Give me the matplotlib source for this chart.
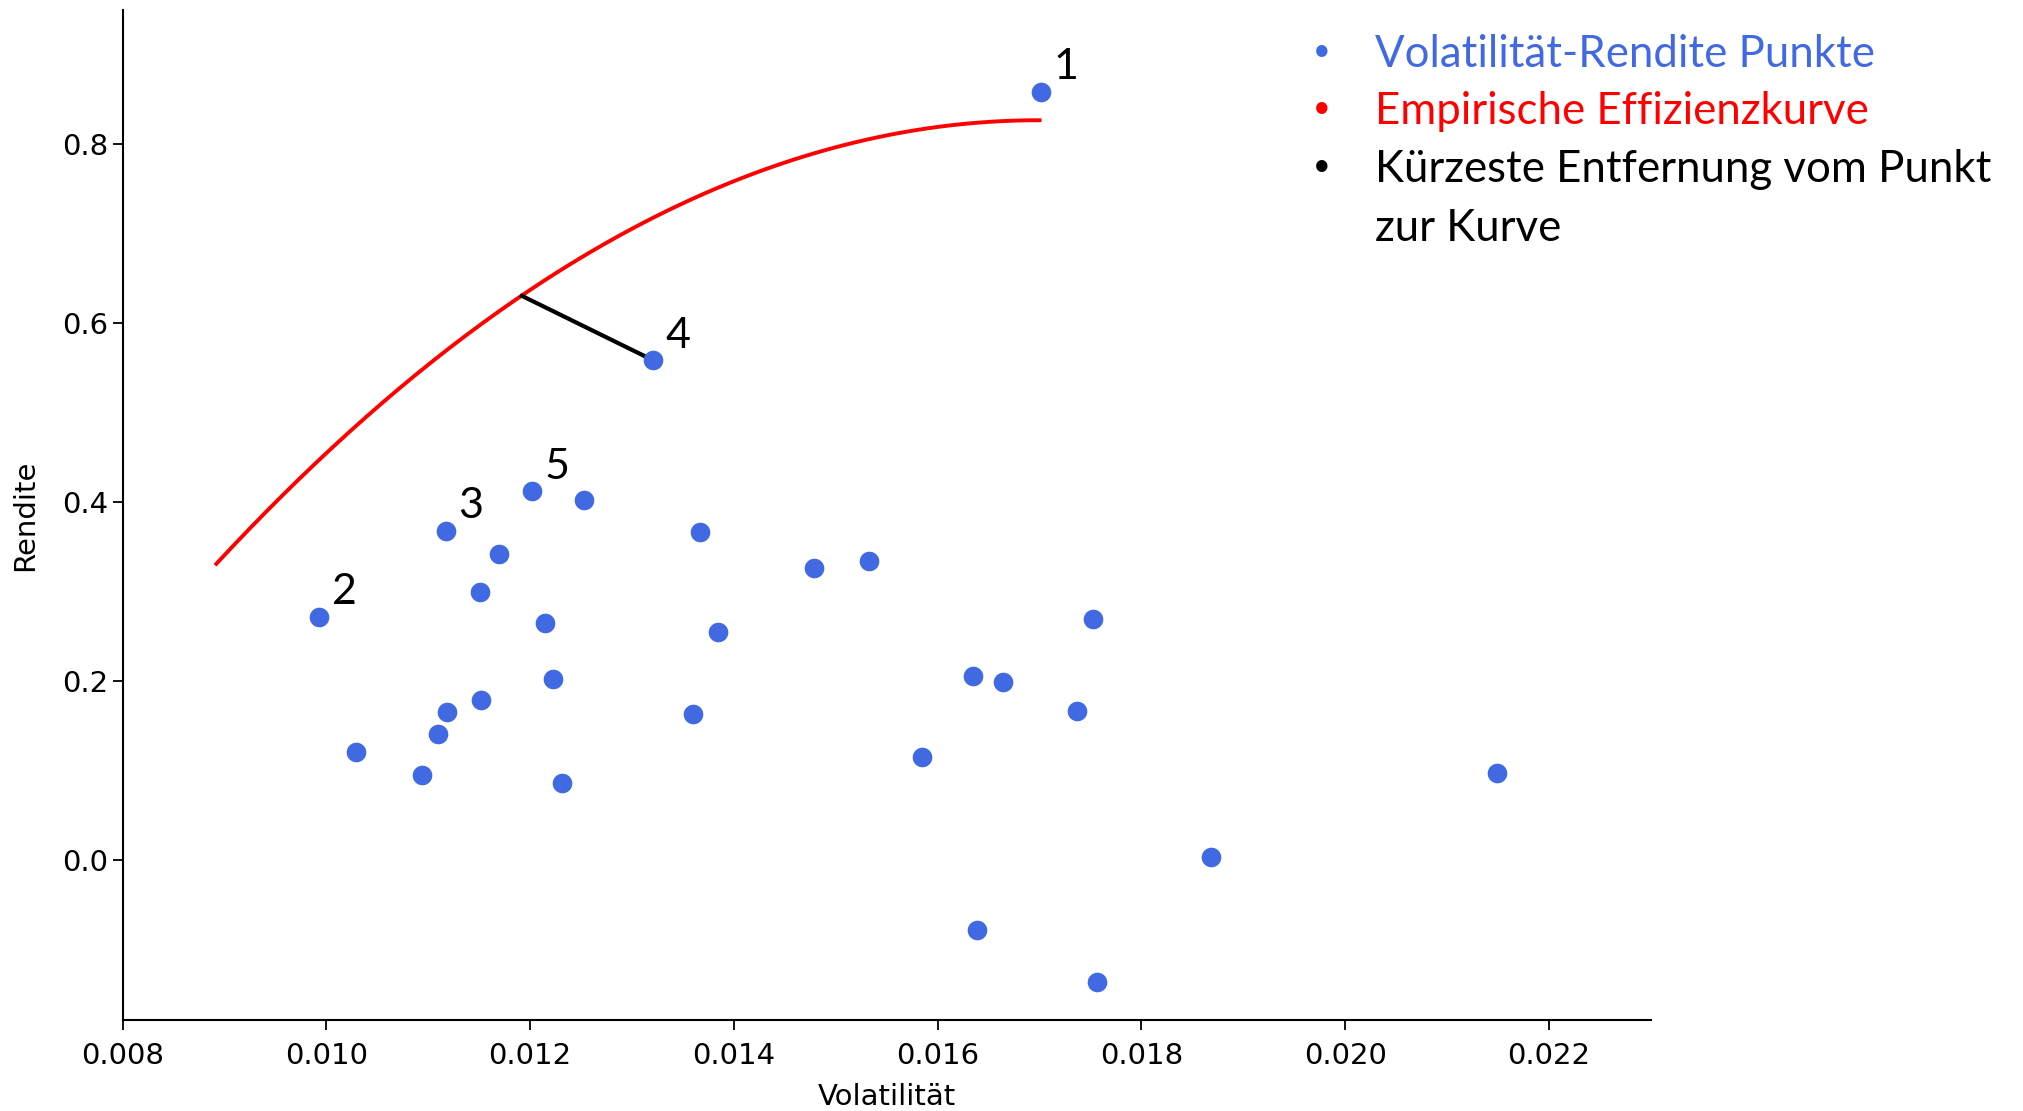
import numpy as np
import matplotlib
matplotlib.use("Agg")
from matplotlib import pyplot as plt

# Volatility / return of each asset
vol = [0.01701, 0.00993, 0.01117, 0.01321, 0.01202, 0.01253, 0.01169, 0.01151,
       0.01215, 0.01222, 0.01118, 0.01152, 0.01110, 0.01029, 0.01094, 0.01231,
       0.01367, 0.01384, 0.01360, 0.01479, 0.01533, 0.01753, 0.01635, 0.01664,
       0.01737, 0.01585, 0.02149, 0.01868, 0.01639, 0.01756]
ret = [0.858, 0.272, 0.368, 0.558, 0.412, 0.402, 0.342, 0.300,
       0.265, 0.202, 0.166, 0.179, 0.141, 0.121, 0.095, 0.087,
       0.366, 0.255, 0.163, 0.326, 0.334, 0.270, 0.206, 0.199,
       0.167, 0.115, 0.098, 0.004, -0.078, -0.136]
point_labels = ["1", "2", "3", "4", "5"]

# empirical frontier (quadratic through three read points)
curve_vol = [0.00892, 0.0119, 0.0170]
curve_ret = [0.331, 0.629, 0.826]

# shortest distance from point 4 to the frontier
dist_vol = [0.01192, 0.01321]
dist_ret = [0.630, 0.558]

fig = plt.figure(figsize=(20.23, 11.11), dpi=100)
ax = fig.add_axes([0.0606, 0.0819, 0.7554, 0.9091])

coef = np.polyfit(curve_vol, curve_ret, 2)
xs = np.linspace(curve_vol[0], curve_vol[-1], 200)
ax.plot(xs, np.polyval(coef, xs), color="red", lw=2.8, zorder=2)
ax.plot(dist_vol, dist_ret, color="black", lw=3, zorder=3)
ax.scatter(vol, ret, s=200, color="royalblue", zorder=4, linewidths=0)

for i, lab in enumerate(point_labels):
    ax.annotate(lab, (vol[i], ret[i]), xytext=(9, 9), textcoords="offset points",
                fontsize=31, family="Lato", color="black")

ax.set_xlim(0.008, 0.023)
ax.set_ylim(-0.178, 0.949)
ax.set_xticks(np.arange(0.008, 0.0221, 0.002))
ax.set_yticks([0.0, 0.2, 0.4, 0.6, 0.8])
ax.xaxis.set_major_formatter(matplotlib.ticker.FormatStrFormatter("%.3f"))
ax.yaxis.set_major_formatter(matplotlib.ticker.FormatStrFormatter("%.1f"))
ax.tick_params(labelsize=21, length=7, width=1.3)
ax.tick_params(axis="x", pad=9)
for s in ["top", "right"]:
    ax.spines[s].set_visible(False)
for s in ["left", "bottom"]:
    ax.spines[s].set_linewidth(1.5)
ax.set_xlabel("Volatilität", fontsize=21, labelpad=9)
ax.set_ylabel("Rendite", fontsize=21, labelpad=16)

# legend block
legend_items = [("Volatilität-Rendite Punkte", "royalblue"),
                ("Empirische Effizienzkurve", "red"),
                ("Kürzeste Entfernung vom Punkt\nzur Kurve", "black")]
legend_y = [54, 111, 169]
for (txt, col), yy in zip(legend_items, legend_y):
    fig.text(1322 / 2023, 1 - (yy - 3) / 1111, "•", color=col, fontsize=22,
             family="Lato", ha="center", va="center")
    fig.text(1375 / 2023, 1 - (yy - 20) / 1111, txt, color=col, fontsize=31.5,
             family="Lato", ha="left", va="top", linespacing=1.55)

fig.savefig("out.png", dpi=100)
